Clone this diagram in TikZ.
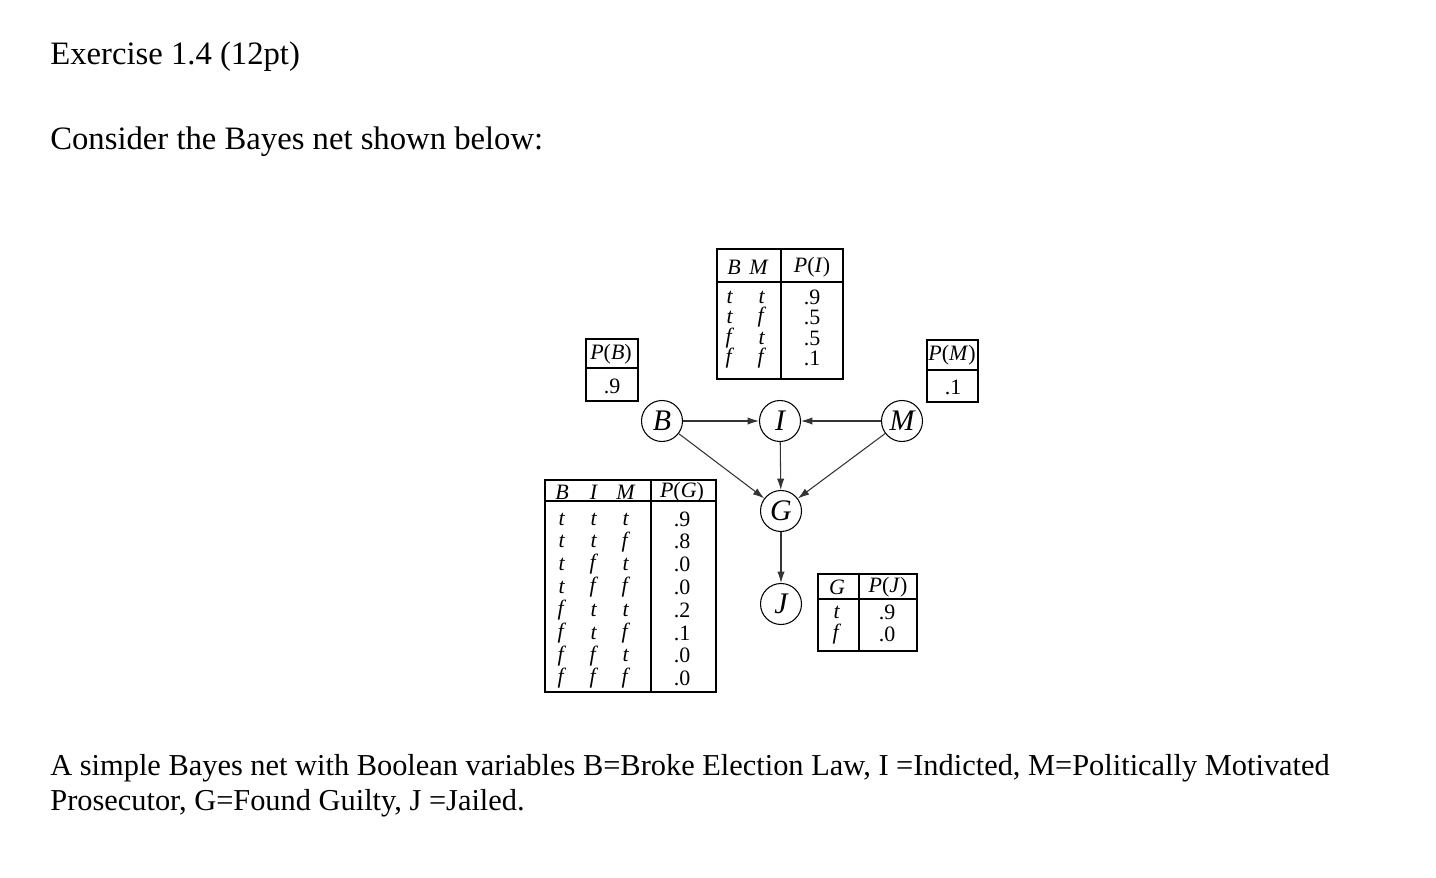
\documentclass[tikz,border=0pt]{standalone}
\usepackage{fontspec}
\setmainfont{Liberation Serif}
\usepackage{tikz}
\usetikzlibrary{arrows.meta,positioning}

\tikzset{
  var/.style={draw,circle,line width=0.6pt,minimum size=0.82cm,inner sep=0pt,font=\fontsize{17}{17}\selectfont\itshape},
  link/.style={-{Latex[length=6.5pt,width=4.2pt]},semithick,black!80},
  cpt/.style={draw,line width=0.7pt},
  cell/.style={inner sep=0pt,font=\fontsize{12.5}{14}\selectfont},
  txt/.style={anchor=base west,inner sep=0pt,font=\fontsize{18.6}{22}\selectfont},
  captxt/.style={anchor=base west,inner sep=0pt,font=\fontsize{17.3}{20}\selectfont}
}

\begin{document}
\begin{tikzpicture}[x=0.02cm,y=-0.02cm]
\useasboundingbox[fill=white] (0,0) rectangle (1436,878);

% text
\node[txt] (title) at (50,65) {Exercise 1.4 (12pt)};
\node[txt] (intro) at (50,150) {Consider the Bayes net shown below:};
\node[captxt] (cap1) at (50,775) {A simple Bayes net with Boolean variables B=Broke Election Law, I =Indicted, M=Politically Motivated};
\node[captxt] (cap2) at (50,810) {Prosecutor, G=Found Guilty, J =Jailed.};

% network
\node[var] (B) at (662,421) {B};
\node[var] (I) at (780,421) {I};
\node[var] (M) at (902,421) {M};
\node[var] (G) at (781,511) {G};
\node[var] (J) at (781,604) {J};
\draw[link] (B) -- (I);
\draw[link] (M) -- (I);
\draw[link] (B) -- (G);
\draw[link] (I) -- (G);
\draw[link] (M) -- (G);
\draw[link] (G) -- (J);

% P(B)
\draw[cpt] (586,339) rectangle (638,401);
\draw[cpt] (586,368) -- (638,368);
\node[cell] (pb) at (611,354) {\textit{P}(\textit{B})};
\node[cell] (pbv) at (612,386) {.9};

% P(M)
\draw[cpt] (927,340) rectangle (978,402);
\draw[cpt] (927,370) -- (978,370);
\node[cell] (pm) at (952,355) {\textit{P}(\textit{M})};
\node[cell] (pmv) at (953,387) {.1};

% P(I)
\draw[cpt] (717,249) rectangle (843,379);
\draw[cpt] (717,282) -- (843,282);
\draw[cpt] (781,249) -- (781,379);
\node[cell] at (734,267) {\textit{B}};
\node[cell] at (759,267) {\textit{M}};
\node[cell] at (812,267) {\textit{P}(\textit{I})};
\foreach \y/\a/\b/\p in {297/t/t/.9,317.5/t/f/.5,338/f/t/.5,358.5/f/f/.1}{
  \node[cell] at (730,\y) {\textit{\a}};
  \node[cell] at (762,\y) {\textit{\b}};
  \node[cell] at (812,\y) {\p};
}

% P(G)
\draw[cpt] (545,480) rectangle (716,692);
\draw[cpt] (545,501) -- (716,501);
\draw[cpt] (651,480) -- (651,692);
\node[cell] at (562,492) {\textit{B}};
\node[cell] at (594,492) {\textit{I}};
\node[cell] at (626,492) {\textit{M}};
\node[cell] at (682,492) {\textit{P}(\textit{G})};
\foreach \a/\b/\c/\p [count=\k from 0] in {t/t/t/.9,t/t/f/.8,t/f/t/.0,t/f/f/.0,f/t/t/.2,f/t/f/.1,f/f/t/.0,f/f/f/.0}{
  \node[cell] at (562,519+22.8*\k) {\textit{\a}};
  \node[cell] at (594,519+22.8*\k) {\textit{\b}};
  \node[cell] at (626,519+22.8*\k) {\textit{\c}};
  \node[cell] at (682,519+22.8*\k) {\p};
}

% P(J)
\draw[cpt] (818,574) rectangle (917,651);
\draw[cpt] (818,599) -- (917,599);
\draw[cpt] (859,574) -- (859,651);
\node[cell] at (837,587) {\textit{G}};
\node[cell] at (888,587) {\textit{P}(\textit{J})};
\foreach \y/\a/\p in {612/t/.9,634/f/.0}{
  \node[cell] at (837,\y) {\textit{\a}};
  \node[cell] at (887,\y) {\p};
}
\end{tikzpicture}
\end{document}
